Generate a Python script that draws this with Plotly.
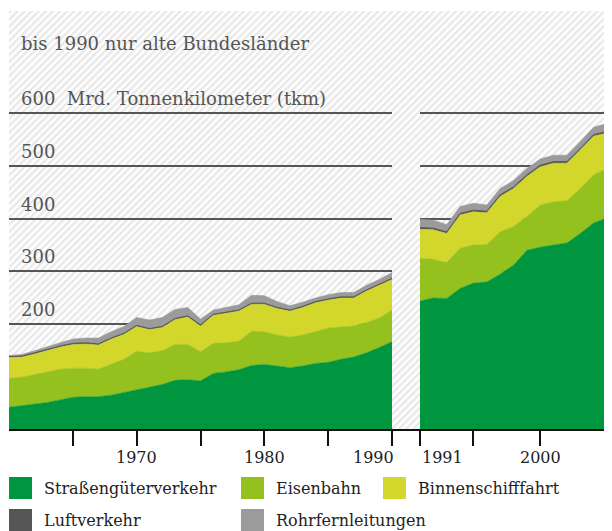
import base64
import plotly.graph_objects as go

# ---------------- data (Mrd. tkm) ----------------
years_west = list(range(1960, 1991))
years_all = list(range(1991, 2006))

strasse_west = [43, 46, 49, 52, 57, 62, 63, 63, 66, 71, 77, 81, 86, 94, 95, 93,
                107, 110, 114, 122, 124, 121, 118, 121, 126, 128, 134, 138, 146, 156, 167]
eisenbahn_west = [55, 54, 56, 58, 58, 55, 54, 52, 59, 63, 72, 65, 64, 68, 67, 55,
                  57, 55, 54, 65, 62, 59, 58, 59, 60, 65, 61, 59, 57, 56, 60]
binnen_west = [39, 38, 39, 41, 42, 45, 46, 46, 47, 47, 47, 44, 44, 47, 52, 49,
               53, 56, 57, 51, 52, 50, 49, 52, 55, 53, 55, 53, 60, 62, 58]
luft_west = [2, 2, 2, 2, 2, 2, 2, 2, 2, 2, 2, 2, 2, 2, 2, 2,
             2, 2, 2, 2, 2, 2, 2, 2, 2, 2, 2, 2, 2, 2, 2]
rohr_west = [2, 3, 4, 5, 6, 8, 9, 11, 12, 13, 15, 16, 17, 17, 16, 11,
             8, 9, 10, 15, 14, 11, 8, 8, 7, 8, 8, 8, 9, 9, 11]

strasse_all = [244, 250, 249, 268, 278, 280, 295, 312, 340, 346, 350, 354, 372, 392, 401]
eisenbahn_all = [81, 73, 68, 76, 72, 71, 80, 73, 64, 80, 82, 80, 85, 91, 94]
binnen_all = [55, 56, 55, 63, 63, 60, 67, 72, 76, 72, 73, 71, 73, 73, 67]
luft_all = [3, 3, 3, 3, 3, 3, 3, 3, 3, 3, 3, 3, 3, 3, 3]
rohr_all = [16, 15, 14, 13, 13, 12, 12, 12, 12, 12, 12, 12, 13, 14, 15]

series_names = ["Straßengüterverkehr", "Eisenbahn", "Binnenschifffahrt",
                "Luftverkehr", "Rohrfernleitungen"]
series_colors = ["#00963f", "#95c11f", "#d3d62b", "#555555", "#9b9b9b"]

ytick_vals = [200, 300, 400, 500, 600]
ytick_labels = ["200", "300", "400", "500", "600\u00a0\u00a0Mrd. Tonnenkilometer (tkm)"]
xtick_vals_west = [1965, 1970, 1975, 1980, 1985, 1990]
xtick_vals_all = [1991, 1995, 2000]
xlabels_west = [1970, 1980, 1990]
xlabels_all = [1991, 2000]
subtitle = "bis 1990 nur alte Bundesländer"

# ---------------- layout geometry (page pixels; body has an 8px margin) ----------------
OFF = 8
W, H = 612 - OFF, 531 - OFF
PLOT_L, PLOT_R, PLOT_T, PLOT_B = 9, 607, 11, 430   # page pixels
ML, MR, MT, MB = PLOT_L - OFF, W - (PLOT_R - OFF), PLOT_T - OFF, H - (PLOT_B - OFF)
PW, PH = W - ML - MR, H - MT - MB
FONT = "DejaVu Serif"


def px(x):
    return (x - PLOT_L) / PW


def py(y):
    return (PLOT_B - y) / PH


fig = go.Figure()

west = [strasse_west, eisenbahn_west, binnen_west, luft_west, rohr_west]
alld = [strasse_all, eisenbahn_all, binnen_all, luft_all, rohr_all]
for name, col, vw, va in zip(series_names, series_colors, west, alld):
    lw = 1 if name == "Luftverkehr" else 0.6
    fig.add_trace(go.Scatter(x=years_west, y=vw, name=name, stackgroup="w",
                             mode="lines", line=dict(width=lw, color=col),
                             fillcolor=col, xaxis="x", yaxis="y",
                             showlegend=False, hoverinfo="skip"))
    fig.add_trace(go.Scatter(x=years_all, y=va, name=name, stackgroup="a",
                             mode="lines", line=dict(width=lw, color=col),
                             fillcolor=col, xaxis="x2", yaxis="y2",
                             showlegend=False, hoverinfo="skip"))

# hatched background
svg = (f'<svg xmlns="http://www.w3.org/2000/svg" width="{PW}" height="{PH}" '
       f'viewBox="0 0 {PW} {PH}"><defs><pattern id="h" width="5" height="5" '
       f'patternUnits="userSpaceOnUse" patternTransform="rotate(45)">'
       f'<rect width="5" height="5" fill="#ffffff"/>'
       f'<rect width="2.5" height="5" fill="#e9e9e9"/></pattern></defs>'
       f'<rect width="{PW}" height="{PH}" fill="url(#h)"/></svg>')
src = "data:image/svg+xml;base64," + base64.b64encode(svg.encode()).decode()

split_l = px(392)
split_r = px(420)

axis_common = dict(showgrid=False, zeroline=False, showline=False,
                   ticks="outside", ticklen=15, tickwidth=2, tickcolor="#111111",
                   showticklabels=False)
yaxis_common = dict(range=[0, 793], tickvals=ytick_vals, showgrid=True,
                    gridcolor="#555555", gridwidth=1.5, zeroline=False,
                    showticklabels=False, showline=False, ticks="")

annotations = []
annotations.append(dict(text=subtitle, xref="paper", yref="paper", x=px(19), y=py(43),
                        xanchor="left", yanchor="middle", showarrow=False,
                        font=dict(family=FONT, size=18, color="#555555")))
for v, t in zip(ytick_vals, ytick_labels):
    annotations.append(dict(text=t, xref="paper", yref="y", x=px(19), y=v,
                            xanchor="left", yanchor="bottom", yshift=2, showarrow=False,
                            font=dict(family=FONT, size=18, color="#555555")))
for v in xlabels_west:
    anchor = "right" if v == 1990 else "center"
    annotations.append(dict(text=str(v), xref="x", yref="paper", x=v, y=0,
                            xanchor=anchor, yanchor="middle", yshift=-27,
                            xshift=4 if v == 1990 else 0, showarrow=False,
                            font=dict(family=FONT, size=16, color="#222222")))
for v in xlabels_all:
    anchor = "left" if v == 1991 else "center"
    annotations.append(dict(text=str(v), xref="x2", yref="paper", x=v, y=0,
                            xanchor=anchor, yanchor="middle", yshift=-27,
                            showarrow=False,
                            font=dict(family=FONT, size=16, color="#222222")))

# legend (manual), page pixel positions of swatches
legend_pos = [(9, 477), (241, 477), (383, 477), (9, 509), (241, 509)]
shapes = [dict(type="line", xref="paper", yref="paper", x0=0, x1=1, y0=0, y1=0,
               line=dict(color="#111111", width=2))]
for (lx, ly), name, col in zip(legend_pos, series_names, series_colors):
    shapes.append(dict(type="rect", xref="paper", yref="paper",
                       x0=px(lx), x1=px(lx + 23), y0=py(ly + 22), y1=py(ly),
                       fillcolor=col, line=dict(width=0)))
    annotations.append(dict(text=name, xref="paper", yref="paper", x=px(lx + 33),
                            y=py(ly + 11), xanchor="left", yanchor="middle",
                            showarrow=False,
                            font=dict(family=FONT, size=16, color="#222222")))

fig.update_layout(
    width=W, height=H,
    margin=dict(l=ML, r=MR, t=MT, b=MB),
    paper_bgcolor="white", plot_bgcolor="rgba(0,0,0,0)",
    xaxis=dict(domain=[0, split_l], range=[1960, 1990], tickvals=xtick_vals_west,
               anchor="y", **axis_common),
    xaxis2=dict(domain=[split_r, 1], range=[1991, 2005], tickvals=xtick_vals_all,
                anchor="y2", **axis_common),
    yaxis=dict(anchor="x", **yaxis_common),
    yaxis2=dict(anchor="x2", matches="y", **yaxis_common),
    images=[dict(source=src, xref="paper", yref="paper", x=0, y=1, sizex=1, sizey=1,
                 xanchor="left", yanchor="top", sizing="stretch", layer="below")],
    shapes=shapes,
    annotations=annotations,
    showlegend=False,
)

fig.write_html("out.html")
